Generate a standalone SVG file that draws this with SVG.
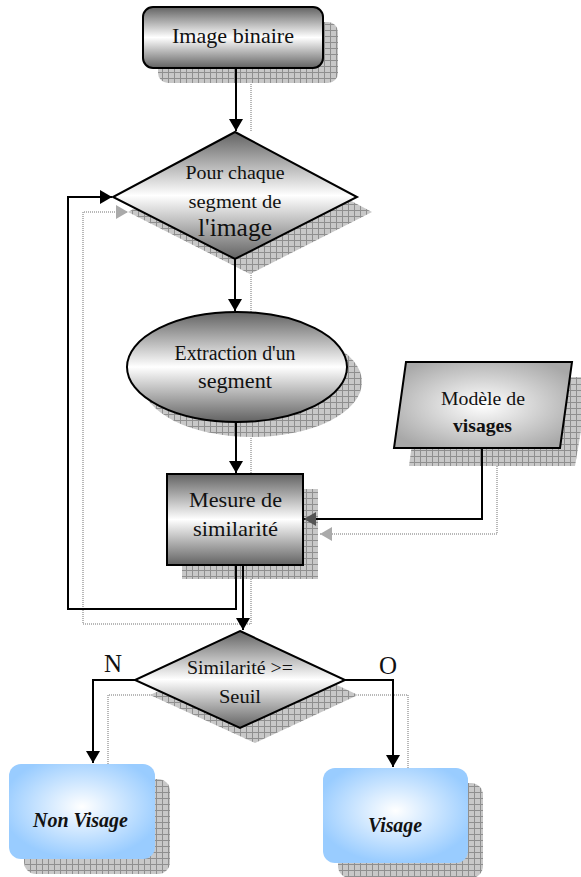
<svg xmlns="http://www.w3.org/2000/svg" width="581" height="877" viewBox="0 0 581 877" font-family="'Liberation Serif', 'DejaVu Serif', serif">
<defs>
<pattern id="grid" width="6" height="6" patternUnits="userSpaceOnUse">
<rect width="6" height="6" fill="#c8c8c8"/>
<path d="M0 0.5H6M0.5 0V6" stroke="#8f8f8f" stroke-width="1"/>
</pattern>
<linearGradient id="vg" x1="0" y1="0" x2="0" y2="1">
<stop offset="0" stop-color="#626262"/>
<stop offset="0.5" stop-color="#ffffff"/>
<stop offset="1" stop-color="#626262"/>
</linearGradient>
<radialGradient id="pg" cx="0.5" cy="0.5" r="0.6">
<stop offset="0" stop-color="#ffffff"/>
<stop offset="1" stop-color="#a8a8a8"/>
</radialGradient>
<radialGradient id="bg" cx="0.5" cy="0.45" r="0.55">
<stop offset="0" stop-color="#ffffff"/>
<stop offset="1" stop-color="#99ccff"/>
</radialGradient>
<marker id="ah" markerWidth="12" markerHeight="14" refX="12" refY="7" orient="auto" markerUnits="userSpaceOnUse" viewBox="0 0 12 14">
<path d="M0 0L12 7L0 14Z" fill="#000"/>
</marker>
<marker id="ahd" markerWidth="12" markerHeight="14" refX="12" refY="7" orient="auto" markerUnits="userSpaceOnUse" viewBox="0 0 12 14">
<path d="M0 0L12 7L0 14Z" fill="#555"/>
</marker>
<marker id="ahg" markerWidth="12" markerHeight="14" refX="12" refY="7" orient="auto" markerUnits="userSpaceOnUse" viewBox="0 0 12 14">
<path d="M0 0L12 7L0 14Z" fill="#aaa"/>
</marker>
<marker id="ahb" markerWidth="12" markerHeight="14" refX="12" refY="7" orient="auto" markerUnits="userSpaceOnUse" viewBox="0 0 12 14">
<path d="M0 0L12 7L0 14Z" fill="#7f9fbf"/>
</marker>
</defs>
<style>
text{font-family:'Liberation Serif','DejaVu Serif',serif}
.t{fill:#111;text-anchor:middle}
.sh{fill:url(#grid)}
.k{fill:none;stroke:#000;stroke-width:2}
.g{fill:none;stroke:#b8b8b8;stroke-width:2;stroke-dasharray:1 1}
.nd{stroke:#000;stroke-width:2}
</style>

<g id="shadow-lines">
<path class="g" d="M251 68V132"/>
<path class="g" d="M251 259V312"/>
<path class="g" d="M251 422V474"/>
<path class="g" d="M251 565V624H83V212H128" marker-end="url(#ahg)"/>
<path class="g" d="M497 466V534H320" marker-end="url(#ahg)"/>
<path class="g" d="M152 695H108V779" marker-end="url(#ahb)"/>
<path class="g" d="M358 695H408V782" marker-end="url(#ahb)"/>
</g>

<g id="n1">
<rect class="sh" x="158" y="22" width="180" height="61" rx="10"/>
<rect class="nd" x="143" y="7" width="180" height="61" rx="10" fill="url(#vg)"/>
<text class="t" x="233" y="43" font-size="21" textLength="122" lengthAdjust="spacingAndGlyphs">Image binaire</text>
</g>

<g id="n2">
<path class="sh" d="M250 147L372 212L250 274L128 212Z"/>
<path class="nd" d="M235 132L357 197L235 259L113 197Z" fill="url(#vg)"/>
<text class="t" x="235" y="179" font-size="19" textLength="99" lengthAdjust="spacingAndGlyphs">Pour chaque</text>
<text class="t" x="235" y="208" font-size="19" textLength="93" lengthAdjust="spacingAndGlyphs">segment de</text>
<text class="t" x="235" y="236" font-size="25" textLength="74" lengthAdjust="spacingAndGlyphs">l'image</text>
</g>

<g id="n3">
<ellipse class="sh" cx="252" cy="382" rx="110" ry="55"/>
<ellipse class="nd" cx="237" cy="367" rx="110" ry="55" fill="url(#vg)"/>
<text class="t" x="235" y="360" font-size="20" textLength="121" lengthAdjust="spacingAndGlyphs">Extraction d'un</text>
<text class="t" x="235" y="388" font-size="20" textLength="74" lengthAdjust="spacingAndGlyphs">segment</text>
</g>

<g id="n4">
<rect class="sh" x="182" y="489" width="136" height="90"/>
<rect class="nd" x="167" y="474" width="136" height="91" fill="url(#vg)"/>
<text class="t" x="235.5" y="507" font-size="21" textLength="93" lengthAdjust="spacingAndGlyphs">Mesure de</text>
<text class="t" x="235.5" y="536" font-size="21" textLength="85" lengthAdjust="spacingAndGlyphs">similarité</text>
</g>

<g id="n5">
<path class="sh" d="M421 377H590L575 466H409Z"/>
<path class="nd" d="M406 362H572L560 448H394Z" fill="url(#pg)"/>
<text class="t" x="483" y="405" font-size="19" textLength="84" lengthAdjust="spacingAndGlyphs">Modèle de</text>
<text class="t" x="482.5" y="432" font-size="19" font-weight="bold" textLength="59" lengthAdjust="spacingAndGlyphs">visages</text>
</g>

<g id="n6">
<path class="sh" d="M255 646L358 695L255 743L150 695Z"/>
<path class="nd" d="M240 631L345 680L240 728L135 680Z" fill="url(#vg)"/>
<text class="t" x="240" y="674" font-size="19" textLength="106" lengthAdjust="spacingAndGlyphs">Similarité &gt;=</text>
<text class="t" x="240" y="703" font-size="19" textLength="42" lengthAdjust="spacingAndGlyphs">Seuil</text>
</g>

<g id="n7">
<rect class="sh" x="24" y="779" width="146" height="95" rx="12"/>
<rect x="9" y="764" width="146" height="95" rx="12" fill="url(#bg)"/>
<text class="t" x="80.5" y="827" font-size="20" font-weight="bold" font-style="italic" textLength="95" lengthAdjust="spacingAndGlyphs">Non Visage</text>
</g>

<g id="n8">
<rect class="sh" x="338" y="783" width="145" height="95" rx="12"/>
<rect x="323" y="768" width="145" height="95" rx="12" fill="url(#bg)"/>
<text class="t" x="395" y="832" font-size="20" font-weight="bold" font-style="italic" textLength="54" lengthAdjust="spacingAndGlyphs">Visage</text>
</g>

<g id="connectors">
<path class="k" d="M236 68V131" marker-end="url(#ah)"/>
<path class="k" d="M235 259V311" marker-end="url(#ah)"/>
<path class="k" d="M236 422V473" marker-end="url(#ah)"/>
<path class="k" d="M236 565V609H68V197H112" marker-end="url(#ah)"/>
<path class="k" d="M243 565V630" marker-end="url(#ah)"/>
<path class="k" d="M482 448V519H304" marker-end="url(#ahd)"/>
<path class="k" d="M135 680H93V763" marker-end="url(#ah)"/>
<path class="k" d="M345 680H393V767" marker-end="url(#ah)"/>
</g>

<g id="labels">
<text class="t" x="113" y="672" font-size="25">N</text>
<text class="t" x="388" y="674" font-size="25">O</text>
</g>
</svg>
